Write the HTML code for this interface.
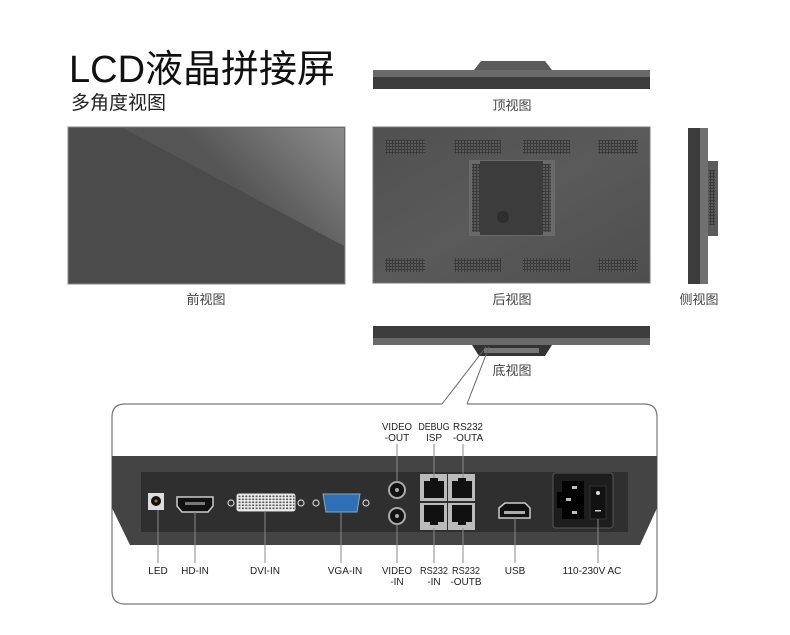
<!DOCTYPE html>
<html><head><meta charset="utf-8"><style>
html,body{margin:0;padding:0;background:#fff;}
svg{display:block;}
text{font-family:"Liberation Sans","Noto Sans CJK SC",sans-serif;}
</style></head><body>
<svg width="790" height="635" viewBox="0 0 790 635" xmlns="http://www.w3.org/2000/svg">
<defs>
<linearGradient id="gl" gradientUnits="userSpaceOnUse" x1="250" y1="200" x2="330" y2="120">
<stop offset="0" stop-color="#555"/><stop offset="1" stop-color="#8a8a8a"/></linearGradient>
<linearGradient id="bk" x1="0" y1="0" x2="1" y2="1">
<stop offset="0" stop-color="#505050"/><stop offset="0.5" stop-color="#5a5a5a"/><stop offset="1" stop-color="#4e4e4e"/></linearGradient>
<pattern id="vent" width="3" height="3" patternUnits="userSpaceOnUse"><rect width="3" height="3" fill="#3a3a3a"/><rect width="2" height="2" fill="#5a5a5a"/></pattern>
<pattern id="dvi" width="3.4" height="3" patternUnits="userSpaceOnUse"><rect width="3.4" height="3" fill="#eee"/><rect x="0.5" y="0.5" width="2" height="1.6" fill="#555"/></pattern>
</defs>
<text x="69" y="82" font-size="38" fill="#111">LCD液晶拼接屏</text>
<text x="71" y="109" font-size="19" fill="#222">多角度视图</text>

<!-- front -->
<rect x="68" y="127" width="277" height="157" fill="#4b4b4b" stroke="#888" stroke-width="1"/>
<polygon points="123,128 344,128 344,246" fill="url(#gl)"/>
<text x="206" y="304" font-size="13" fill="#444" text-anchor="middle">前视图</text>

<!-- top view -->
<polygon points="474,70 481,61 545,61 552,70" fill="#5a5a5a"/>
<rect x="373" y="70" width="277" height="7" fill="#6a6a6a"/>
<rect x="373" y="77" width="277" height="12" fill="#3c3c3c"/>
<text x="512" y="110" font-size="13" fill="#444" text-anchor="middle">顶视图</text>

<!-- back -->
<rect x="373" y="127" width="277" height="156" fill="url(#bk)" stroke="#777" stroke-width="1"/>
<rect x="385" y="140" width="40" height="14" fill="url(#vent)"/>
<rect x="454" y="140" width="47" height="14" fill="url(#vent)"/>
<rect x="523" y="140" width="47" height="14" fill="url(#vent)"/>
<rect x="598" y="140" width="40" height="14" fill="url(#vent)"/>
<rect x="385" y="258" width="40" height="14" fill="url(#vent)"/>
<rect x="454" y="258" width="47" height="14" fill="url(#vent)"/>
<rect x="523" y="258" width="47" height="14" fill="url(#vent)"/>
<rect x="598" y="258" width="40" height="14" fill="url(#vent)"/>
<rect x="469" y="160" width="86" height="76" fill="#6a6a6a"/>
<rect x="480" y="161" width="63" height="74" fill="#3c3c3c"/>
<rect x="472" y="164" width="8" height="68" fill="url(#vent)"/>
<rect x="543" y="164" width="8" height="68" fill="url(#vent)"/>
<circle cx="503" cy="217" r="6" fill="#2e2e2e"/>
<text x="512" y="304" font-size="13" fill="#444" text-anchor="middle">后视图</text>

<!-- side -->
<rect x="688" y="128" width="12" height="156" fill="#3c3c3c"/>
<rect x="700" y="128" width="8" height="156" fill="#707070"/>
<rect x="708" y="161" width="10" height="75" fill="#5a5a5a"/>
<rect x="709" y="170" width="6" height="55" fill="url(#vent)"/>
<text x="699" y="304" font-size="13" fill="#444" text-anchor="middle">侧视图</text>

<!-- bottom view -->
<rect x="373" y="326" width="277" height="12" fill="#3c3c3c"/>
<rect x="373" y="338" width="277" height="7" fill="#6a6a6a"/>
<polygon points="472,345 552,345 545,356 479,356" fill="#333"/>
<rect x="484" y="348" width="55" height="5" fill="#777"/>
<text x="512" y="375" font-size="13" fill="#444" text-anchor="middle">底视图</text>

<!-- callout lines -->
<line x1="442" y1="404" x2="486" y2="347" stroke="#666" stroke-width="1"/>
<line x1="467" y1="404" x2="489" y2="347" stroke="#666" stroke-width="1"/>

<!-- callout box -->
<path d="M442,404 L125,404 Q112,404 112,417 L112,591 Q112,604 125,604 L644,604 Q657,604 657,591 L657,417 Q657,404 644,404 L467,404" fill="none" stroke="#777" stroke-width="1.2"/>

<!-- dark band -->
<polygon points="112,456 657,456 657,508 640,545 130,545 112,508" fill="#444"/>
<rect x="141" y="472" width="487" height="60" fill="#2f2f2f"/>

<!-- connectors -->
<rect x="148" y="493" width="16" height="17" fill="#ddd"/>
<circle cx="156" cy="501" r="5" fill="#111"/><circle cx="156" cy="501" r="1.5" fill="#a70"/>
<path d="M177,497 L213,497 L213,506 L208,512 L182,512 L177,506 Z" fill="#111" stroke="#ccc" stroke-width="1.5"/>
<rect x="185" y="502" width="20" height="3" fill="#777"/>
<circle cx="231" cy="503" r="3" fill="none" stroke="#ccc" stroke-width="1.2"/>
<rect x="237" y="494" width="58" height="17" rx="2" fill="url(#dvi)" stroke="#ddd"/>
<circle cx="301" cy="503" r="3" fill="none" stroke="#ccc" stroke-width="1.2"/>
<circle cx="316" cy="503" r="3" fill="none" stroke="#ccc" stroke-width="1.2"/>
<path d="M323,494 L360,494 L357,512 L326,512 Z" fill="#2f6fb5" stroke="#8ab" stroke-width="1"/>
<circle cx="366" cy="503" r="3" fill="none" stroke="#ccc" stroke-width="1.2"/>
<circle cx="397" cy="490" r="8" fill="#111" stroke="#aaa" stroke-width="2"/><circle cx="397" cy="490" r="2" fill="#aaa"/>
<circle cx="397" cy="516" r="8" fill="#111" stroke="#aaa" stroke-width="2"/><circle cx="397" cy="516" r="2" fill="#aaa"/>
<g fill="#bbb">
<rect x="420" y="474" width="27" height="27"/><rect x="448" y="474" width="27" height="27"/>
<rect x="420" y="503" width="27" height="27"/><rect x="448" y="503" width="27" height="27"/></g>
<g fill="#111">
<rect x="424" y="481" width="20" height="17"/><rect x="452" y="481" width="20" height="17"/>
<rect x="424" y="505" width="20" height="17"/><rect x="452" y="505" width="20" height="17"/>
<rect x="430" y="478" width="8" height="4"/><rect x="458" y="478" width="8" height="4"/>
<rect x="430" y="521" width="8" height="4"/><rect x="458" y="521" width="8" height="4"/></g>
<path d="M499,508 L505,503 L525,503 L530,508 L530,518 L499,518 Z" fill="#111" stroke="#ccc" stroke-width="1.5"/>
<rect x="504" y="511" width="21" height="3" fill="#aaa"/>
<rect x="553" y="473" width="60" height="55" rx="3" fill="#1d1d1d" stroke="#555"/>
<path d="M562,481 L584,481 L584,519 L562,519 L562,508 L557,508 L557,492 L562,492 Z" fill="#000"/>
<rect x="572" y="486" width="5" height="3" fill="#bbb"/><rect x="566" y="498" width="5" height="3" fill="#bbb"/><rect x="572" y="511" width="5" height="3" fill="#bbb"/>
<rect x="590" y="486" width="16" height="33" fill="#111" stroke="#333"/>
<circle cx="598" cy="493" r="2" fill="#ddd"/><rect x="595" y="510" width="6" height="1.5" fill="#ccc"/>

<!-- leader lines -->
<g stroke="#888" stroke-width="1">
<line x1="397" y1="444" x2="397" y2="482"/><line x1="397" y1="524" x2="397" y2="563"/>
<line x1="434" y1="444" x2="434" y2="478"/><line x1="463" y1="444" x2="463" y2="478"/>
<line x1="434" y1="528" x2="434" y2="563"/><line x1="463" y1="528" x2="463" y2="563"/>
<line x1="158" y1="510" x2="158" y2="563"/><line x1="195" y1="512" x2="195" y2="563"/>
<line x1="265" y1="511" x2="265" y2="563"/><line x1="341" y1="512" x2="341" y2="563"/>
<line x1="515" y1="518" x2="515" y2="563"/><line x1="598" y1="519" x2="598" y2="563"/>
</g>

<g font-size="10" fill="#222" text-anchor="middle">
<text x="397" y="430" textLength="30" lengthAdjust="spacingAndGlyphs">VIDEO</text><text x="397" y="441">-OUT</text>
<text x="434" y="430" textLength="31" lengthAdjust="spacingAndGlyphs">DEBUG</text><text x="434" y="441">ISP</text>
<text x="468" y="430" textLength="30" lengthAdjust="spacingAndGlyphs">RS232</text><text x="468" y="441">-OUTA</text>
<text x="158" y="574">LED</text><text x="195" y="574">HD-IN</text>
<text x="265" y="574">DVI-IN</text><text x="345" y="574">VGA-IN</text>
<text x="397" y="574" textLength="30" lengthAdjust="spacingAndGlyphs">VIDEO</text><text x="397" y="585">-IN</text>
<text x="434" y="574" textLength="28" lengthAdjust="spacingAndGlyphs">RS232</text><text x="434" y="585">-IN</text>
<text x="466" y="574" textLength="28" lengthAdjust="spacingAndGlyphs">RS232</text><text x="466" y="585">-OUTB</text>
<text x="515" y="574">USB</text><text x="592" y="574">110-230V  AC</text>
</g>
</svg>
</body></html>
